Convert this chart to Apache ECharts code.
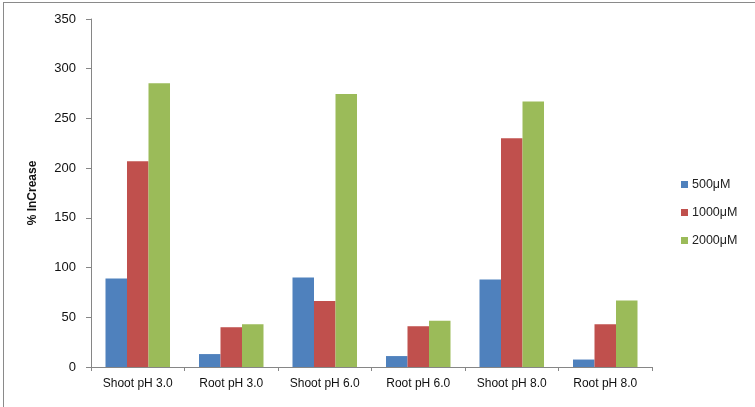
<!DOCTYPE html>
<html>
<head>
<meta charset="utf-8">
<script src="https://cdn.jsdelivr.net/npm/echarts@6/dist/echarts.min.js"></script>
<style>
  html, body { margin: 0; padding: 0; background: #fff; }
  .frame {
    position: absolute;
    left: 3px;
    top: 2px;
    width: 752px;
    height: 405px;
    border-top: 1px solid #8a8a8a;
    border-left: 1px solid #8a8a8a;
  }
  #chart { position: absolute; left: 0; top: 0; width: 755px; height: 407px; }
</style>
</head>
<body>
<div class="frame"></div>
<div id="chart"></div>
<script>
  // categories on the x axis
  const categories = ['Shoot pH 3.0', 'Root pH 3.0', 'Shoot pH 6.0', 'Root pH 6.0', 'Shoot pH 8.0', 'Root pH 8.0'];
  // % increase per concentration
  const s500 = [89, 13, 90, 11, 88, 7.5];
  const s1000 = [207, 40, 66.5, 41, 230, 43];
  const s2000 = [285.5, 43, 274.5, 46.5, 267, 67];
  const yTicks = [0, 50, 100, 150, 200, 250, 300, 350];

  const font = 'Liberation Sans, Arial, sans-serif';
  let myChart = echarts.init(document.getElementById('chart'));

  function bar(name, data, color) {
    return {
      name: name,
      type: 'bar',
      data: data,
      barGap: '0%',
      barCategoryGap: '31%',
      itemStyle: { color: color },
      emphasis: { disabled: true }
    };
  }

  let option = {
    animation: false,
    textStyle: { fontFamily: font },
    grid: { left: 91, right: 103, top: 19, bottom: 40 },
    legend: {
      orient: 'vertical',
      left: 676,
      top: 173,
      icon: 'rect',
      itemWidth: 7,
      itemHeight: 7,
      itemGap: 15,
      textStyle: { fontSize: 12.5, color: '#222', fontFamily: font, padding: [0, 0, 0, -1] },
      data: ['500μM', '1000μM', '2000μM']
    },
    xAxis: {
      type: 'category',
      data: categories,
      axisLine: { lineStyle: { color: '#868686' } },
      axisTick: { show: true, length: 4, lineStyle: { color: '#868686' } },
      axisLabel: { color: '#111', fontSize: 12, margin: 11, interval: 0 }
    },
    yAxis: {
      type: 'value',
      min: yTicks[0],
      max: yTicks[yTicks.length - 1],
      interval: 50,
      name: '% InCrease',
      nameLocation: 'middle',
      nameGap: 52,
      nameTextStyle: { fontSize: 12, color: '#111', fontWeight: 'bold' },
      axisLine: { show: true, lineStyle: { color: '#868686' } },
      axisTick: { show: true, length: 5, lineStyle: { color: '#868686' } },
      axisLabel: { color: '#111', fontSize: 13, margin: 15 },
      splitLine: { show: false }
    },
    series: [
      bar('500μM', s500, '#4F81BD'),
      bar('1000μM', s1000, '#C0504D'),
      bar('2000μM', s2000, '#9BBB59')
    ]
  };
  myChart.setOption(option);
</script>
</body>
</html>
